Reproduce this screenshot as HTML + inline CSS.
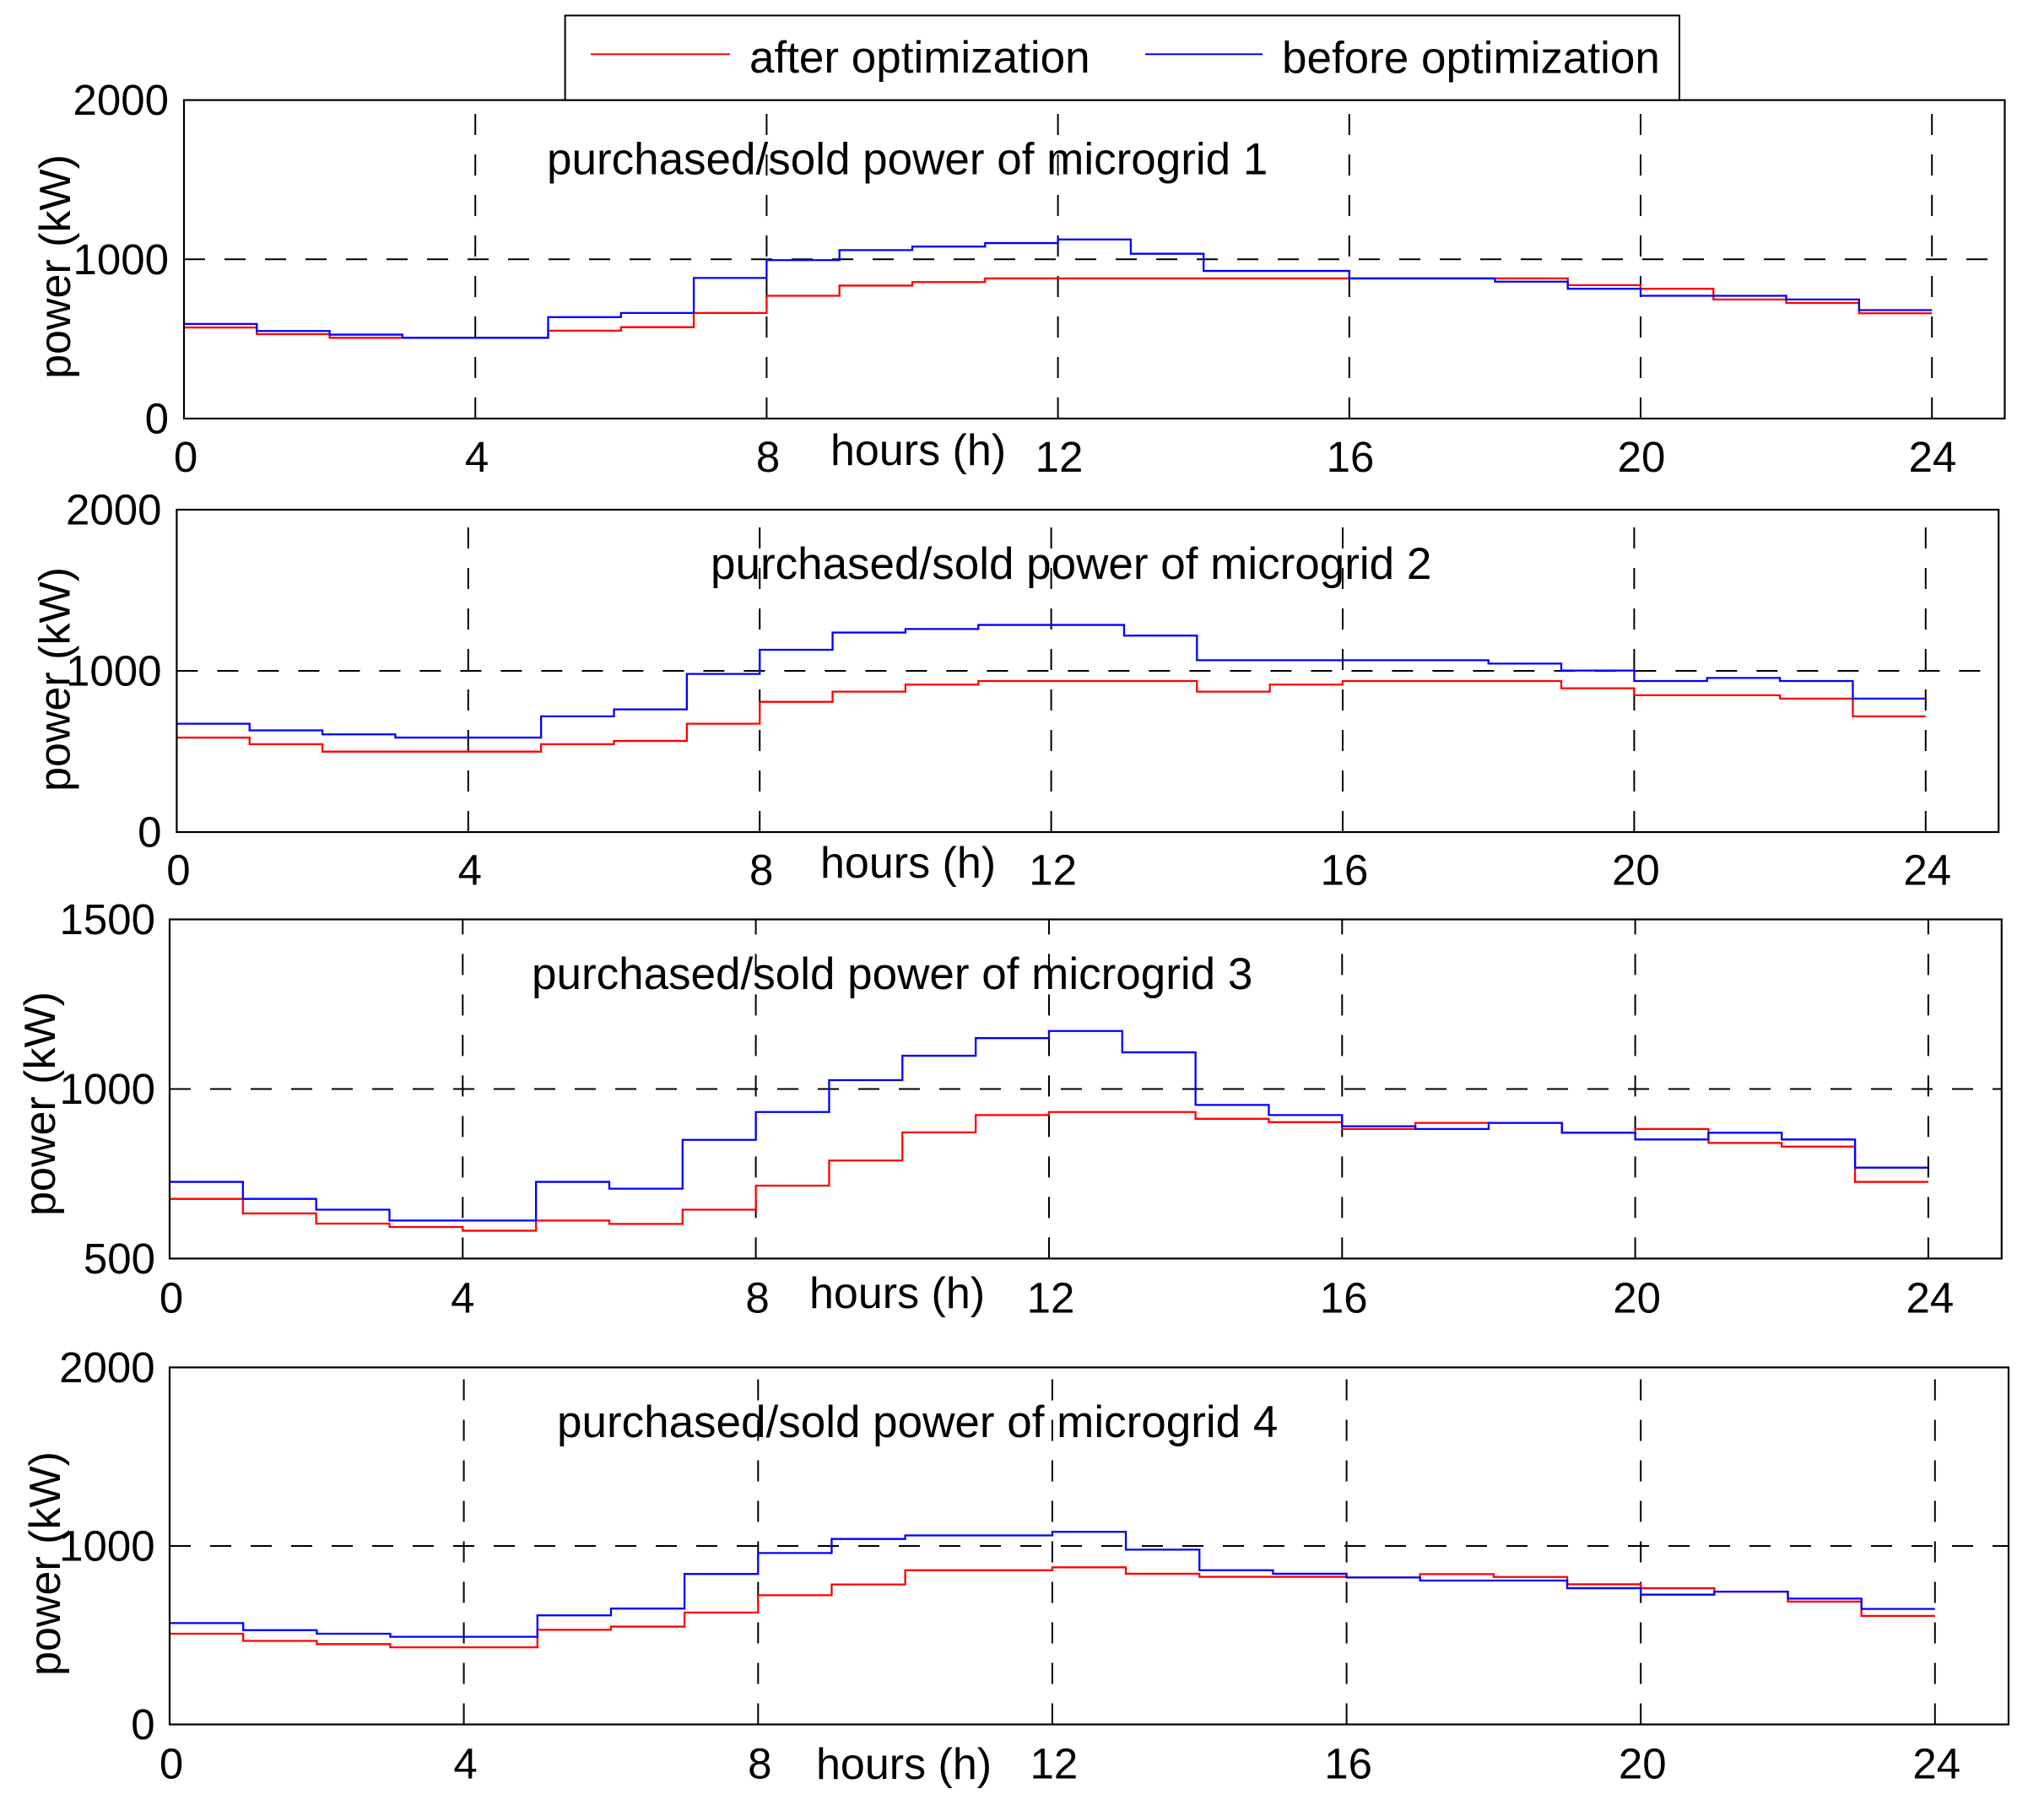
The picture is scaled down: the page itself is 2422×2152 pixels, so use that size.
<!DOCTYPE html>
<html>
<head>
<meta charset="utf-8">
<style>
html,body{margin:0;padding:0;background:#fff;}
svg{display:block;}
text{font-family:"Liberation Sans",Arial,Helvetica,sans-serif;fill:#000;}
.tk{font-size:51px;}
.lb{font-size:52px;}
.tt{font-size:53px;}
.fr{fill:none;stroke:#000;stroke-width:2.2;}
.gd{fill:none;stroke:#000;stroke-width:2;stroke-dasharray:25 23;}
.sr{fill:none;stroke:#ff0000;stroke-width:2.3;vector-effect:non-scaling-stroke;}
.sb{fill:none;stroke:#0000ff;stroke-width:2.3;vector-effect:non-scaling-stroke;}
</style>
</head>
<body>
<svg width="2422" height="2152" viewBox="0 0 2422 2152" xmlns="http://www.w3.org/2000/svg">
<rect x="0" y="0" width="2422" height="2152" fill="#fff"/>

<!-- ================= PANEL 1 ================= -->
<g>
<path class="gd" d="M563.2 496V118.6M908.4 496V118.6M1253.6 496V118.6M1598.8 496V118.6M1944 496V118.6M2289.2 496V118.6"/>
<path class="gd" d="M218 307.3H2375.5"/>
<g transform="translate(218,496) scale(86.3,-0.1887)">
<path class="sr" d="M0 572H1V530H2V507H5V552H6V574H7V663H8V771H9V835H10V857H11V880H19V838H20V815H21V748H22V726H23V661H24"/>
<path class="sb" d="M0 594H1V550H2V527H3V507H5V637H6V663H7V883H8V995H9V1058H10V1080H11V1102H12V1125H13V1035H14V927H16V880H18V860H19V815H20V771H22V748H23V681H24"/>
</g>
<rect class="fr" x="218" y="118.6" width="2157.5" height="377.4"/>
<text class="tk" x="200" y="136" text-anchor="end">2000</text>
<text class="tk" x="200" y="325" text-anchor="end">1000</text>
<text class="tk" x="200" y="513.5" text-anchor="end">0</text>
<text class="tk" x="220" y="559" text-anchor="middle">0</text>
<text class="tk" x="565" y="559" text-anchor="middle">4</text>
<text class="tk" x="910" y="559" text-anchor="middle">8</text>
<text class="tk" x="1255" y="559" text-anchor="middle">12</text>
<text class="tk" x="1600" y="559" text-anchor="middle">16</text>
<text class="tk" x="1945" y="559" text-anchor="middle">20</text>
<text class="tk" x="2290" y="559" text-anchor="middle">24</text>
<text class="lb" x="984" y="551">hours (h)</text>
<text class="lb" transform="translate(83,316) rotate(-90)" text-anchor="middle">power (kW)</text>
<text class="tt" x="648" y="206.6">purchased/sold power of microgrid 1</text>
</g>

<!-- Legend -->
<rect x="669.6" y="18.4" width="1320.4" height="100.2" fill="#fff" stroke="#000" stroke-width="2"/>
<line x1="700" y1="64.3" x2="865" y2="64.3" stroke="#ff0000" stroke-width="2"/>
<text class="tt" x="888" y="86">after optimization</text>
<line x1="1357" y1="64.3" x2="1496" y2="64.3" stroke="#0000ff" stroke-width="2"/>
<text class="tt" x="1519" y="86.5">before optimization</text>

<!-- ================= PANEL 2 ================= -->
<g>
<path class="gd" d="M554.8 986V604M900.2 986V604M1245.6 986V604M1591 986V604M1936.4 986V604M2281.8 986V604"/>
<path class="gd" d="M209.4 795H2368.2"/>
<g transform="translate(209.4,986) scale(86.35,-0.191)">
<path class="sr" d="M0 586H1V545H2V499H5V545H6V565H7V672H8V808H9V871H10V915H11V937H14V871H15V915H16V937H19V892H20V849H22V828H23V718H24"/>
<path class="sb" d="M0 672H1V631H2V606H3V586H5V718H6V761H7V981H8V1131H9V1238H10V1260H11V1285H13V1219H14V1066H18V1045H19V1002H20V937H21V956H22V937H23V828H24"/>
</g>
<rect class="fr" x="209.4" y="604" width="2158.8" height="382"/>
<text class="tk" x="191.5" y="621.5" text-anchor="end">2000</text>
<text class="tk" x="191.5" y="812.5" text-anchor="end">1000</text>
<text class="tk" x="191.5" y="1003.5" text-anchor="end">0</text>
<text class="tk" x="211.4" y="1048.5" text-anchor="middle">0</text>
<text class="tk" x="556.8" y="1048.5" text-anchor="middle">4</text>
<text class="tk" x="902.2" y="1048.5" text-anchor="middle">8</text>
<text class="tk" x="1247.6" y="1048.5" text-anchor="middle">12</text>
<text class="tk" x="1593" y="1048.5" text-anchor="middle">16</text>
<text class="tk" x="1938.4" y="1048.5" text-anchor="middle">20</text>
<text class="tk" x="2283.8" y="1048.5" text-anchor="middle">24</text>
<text class="lb" x="972" y="1040">hours (h)</text>
<text class="lb" transform="translate(82.4,805) rotate(-90)" text-anchor="middle">power (kW)</text>
<text class="tt" x="842" y="686">purchased/sold power of microgrid 2</text>
</g>

<!-- ================= PANEL 3 ================= -->
<g>
<path class="gd" d="M548.3 1491.4V1089.5M895.6 1491.4V1089.5M1243 1491.4V1089.5M1590.3 1491.4V1089.5M1937.6 1491.4V1089.5M2284.9 1491.4V1089.5"/>
<path class="gd" d="M201 1290.45H2371.8"/>
<g transform="translate(201,1491.4) scale(86.83,-0.4019) translate(0,-500)">
<path class="sr" d="M0 676H1V633H2V603H3V593H4V582H5V612H6V602H7V644H8V715H9V789H10V872H11V923H12V932H14V912H15V902H16V882H17V900H19V871H20V882H21V841H22V830H23V726H24"/>
<path class="sb" d="M0 726H1V676H2V644H3V612H5V726H6V706H7V850H8V932H9V1026H10V1098H11V1150H12V1171H13V1108H14V953H15V923H16V890H17V882H18V900H19V871H20V851H21V871H22V851H23V768H24"/>
</g>
<rect class="fr" x="201" y="1089.5" width="2170.8" height="401.9"/>
<text class="tk" x="184" y="1107" text-anchor="end">1500</text>
<text class="tk" x="184" y="1308" text-anchor="end">1000</text>
<text class="tk" x="184" y="1509" text-anchor="end">500</text>
<text class="tk" x="203" y="1555.5" text-anchor="middle">0</text>
<text class="tk" x="548.3" y="1555.5" text-anchor="middle">4</text>
<text class="tk" x="897.6" y="1555.5" text-anchor="middle">8</text>
<text class="tk" x="1245" y="1555.5" text-anchor="middle">12</text>
<text class="tk" x="1592.3" y="1555.5" text-anchor="middle">16</text>
<text class="tk" x="1939.6" y="1555.5" text-anchor="middle">20</text>
<text class="tk" x="2286.9" y="1555.5" text-anchor="middle">24</text>
<text class="lb" x="959" y="1550">hours (h)</text>
<text class="lb" transform="translate(65,1308) rotate(-90)" text-anchor="middle">power (kW)</text>
<text class="tt" x="630" y="1172">purchased/sold power of microgrid 3</text>
</g>

<!-- ================= PANEL 4 ================= -->
<g>
<path class="gd" d="M549.6 2043.5V1620.4M898.3 2043.5V1620.4M1246.9 2043.5V1620.4M1595.6 2043.5V1620.4M1944.2 2043.5V1620.4M2292.8 2043.5V1620.4"/>
<path class="gd" d="M201 1831.95H2380"/>
<g transform="translate(201,2043.5) scale(87.16,-0.21155)">
<path class="sr" d="M0 508H1V468H2V450H3V432H5V530H6V548H7V627H8V724H9V784H10V864H12V880H13V844H14V827H16V823H17V842H18V826H19V785H20V763H21V744H22V688H23V608H24"/>
<path class="sb" d="M0 568H1V528H2V508H3V491H5V611H6V649H7V843H8V960H9V1039H10V1059H12V1079H13V979H14V864H15V844H16V823H17V806H19V763H20V727H21V744H22V705H23V647H24"/>
</g>
<rect class="fr" x="201" y="1620.4" width="2179" height="423.1"/>
<text class="tk" x="183.6" y="1638" text-anchor="end">2000</text>
<text class="tk" x="183.6" y="1849.5" text-anchor="end">1000</text>
<text class="tk" x="183.6" y="2061" text-anchor="end">0</text>
<text class="tk" x="203" y="2107.5" text-anchor="middle">0</text>
<text class="tk" x="551.6" y="2107.5" text-anchor="middle">4</text>
<text class="tk" x="900.3" y="2107.5" text-anchor="middle">8</text>
<text class="tk" x="1248.9" y="2107.5" text-anchor="middle">12</text>
<text class="tk" x="1597.6" y="2107.5" text-anchor="middle">16</text>
<text class="tk" x="1946.2" y="2107.5" text-anchor="middle">20</text>
<text class="tk" x="2294.8" y="2107.5" text-anchor="middle">24</text>
<text class="lb" x="967" y="2108">hours (h)</text>
<text class="lb" transform="translate(71,1853) rotate(-90)" text-anchor="middle">power (kW)</text>
<text class="tt" x="660" y="1703">purchased/sold power of microgrid 4</text>
</g>
</svg>
</body>
</html>
